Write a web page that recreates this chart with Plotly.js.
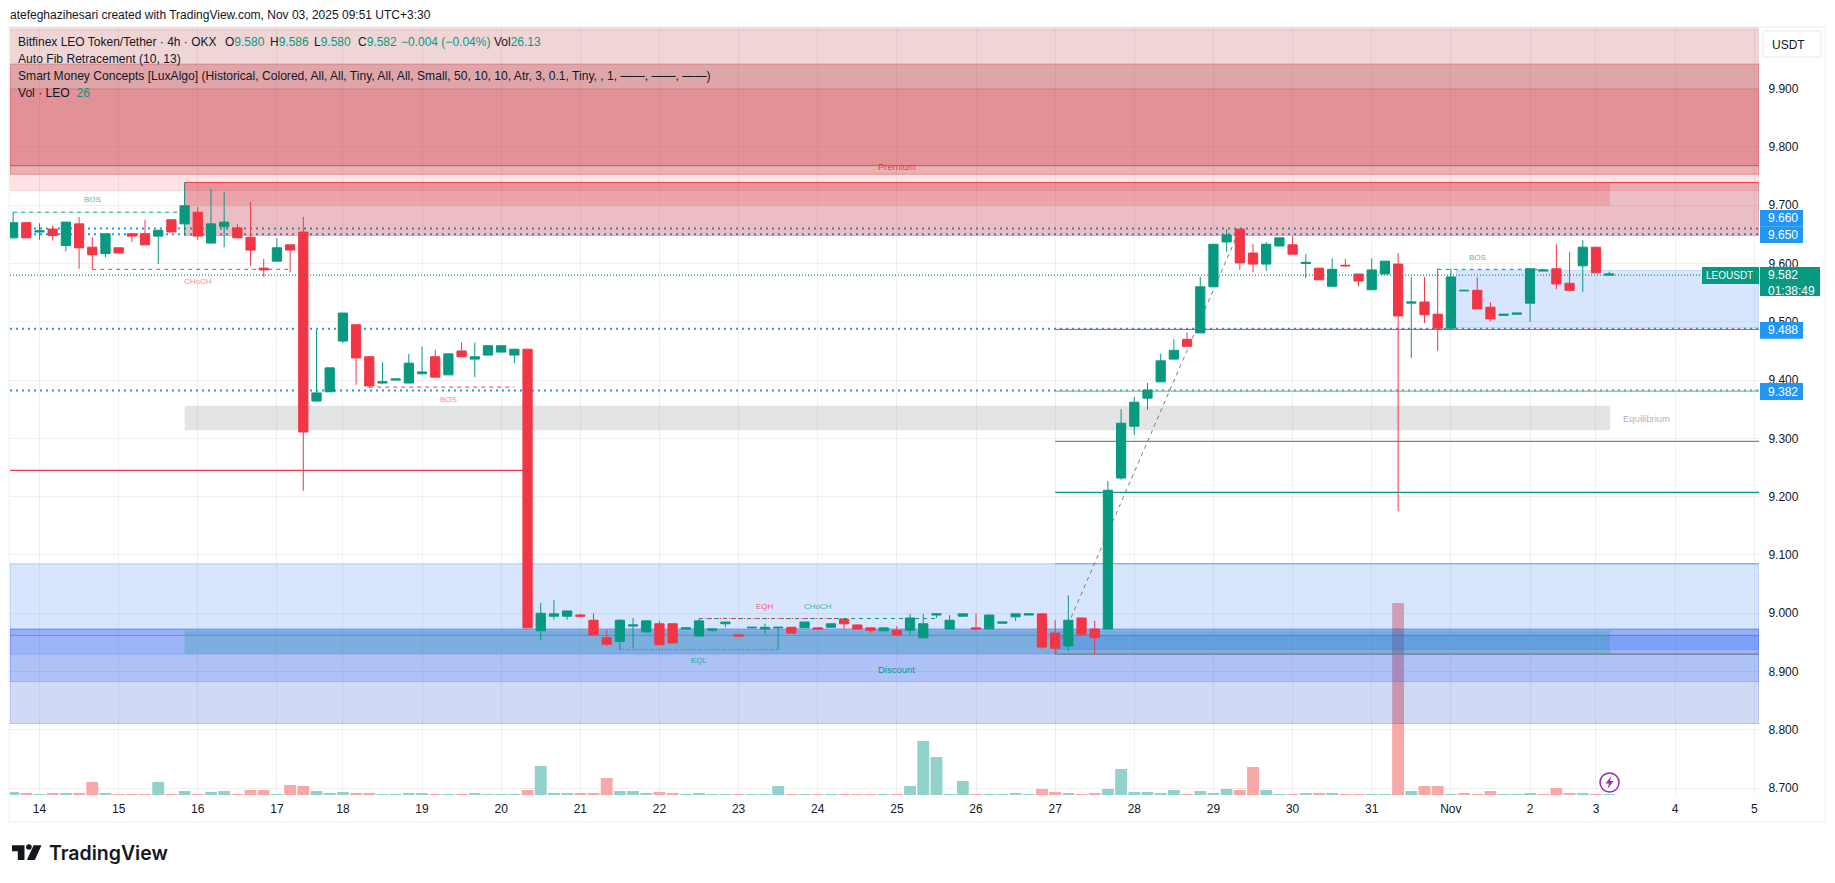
<!DOCTYPE html>
<html>
<head>
<meta charset="utf-8">
<script src="https://cdn.plot.ly/plotly-3.0.1.min.js"></script>
<style>
  html, body { margin: 0; padding: 0; background: #fff; overflow: hidden; }
</style>
</head>
<body>
<div id="graph" style="width:1835px;height:883px"></div>
<script>
//4h candles, first bar is index -2 (14 Oct is index 0)
var opens = [
  9.644,9.670,9.654,9.659,9.631,9.668,9.628,9.617,9.627,9.651,
  9.651,9.647,9.675,9.668,9.688,9.635,9.663,9.661,9.645,9.592,
  9.604,9.632,9.654,9.364,9.380,9.467,9.495,9.440,9.395,9.400,
  9.395,9.411,9.440,9.409,9.450,9.436,9.443,9.448,9.443,9.453,
  8.970,8.995,8.995,8.997,8.988,8.958,8.952,8.978,8.968,8.982,
  8.982,8.973,8.961,8.971,8.982,8.963,8.975,8.973,8.975,8.976,
  8.975,8.975,8.976,8.990,8.980,8.975,8.970,8.971,8.971,8.958,
  8.997,8.973,8.995,8.975,8.973,8.983,8.994,8.997,8.999,8.966,
  8.944,8.992,8.973,8.973,9.232,9.321,9.369,9.397,9.436,9.470,
  9.481,9.560,9.637,9.659,9.618,9.599,9.630,9.632,9.600,9.592,
  9.561,9.597,9.582,9.555,9.582,9.599,9.532,9.534,9.513,9.489,
  9.553,9.554,9.525,9.511,9.513,9.532,9.587,9.591,9.566,9.596,
  9.628,9.580
];
var closes = [
  9.670,9.644,9.656,9.648,9.671,9.627,9.615,9.651,9.618,9.647,
  9.632,9.657,9.654,9.699,9.647,9.668,9.671,9.644,9.623,9.589,
  9.627,9.623,9.311,9.378,9.421,9.515,9.438,9.390,9.397,9.402,
  9.429,9.414,9.405,9.445,9.440,9.440,9.459,9.459,9.453,8.975,
  9.000,8.999,9.004,8.995,8.963,8.947,8.988,8.980,8.987,8.946,
  8.949,8.975,8.987,8.973,8.985,8.961,8.976,8.976,8.976,8.966,
  8.985,8.973,8.982,8.982,8.973,8.971,8.975,8.963,8.992,8.982,
  8.999,8.988,8.999,8.973,8.997,8.985,8.999,8.999,8.942,8.940,
  8.988,8.964,8.958,9.211,9.326,9.362,9.383,9.433,9.451,9.458,
  9.560,9.633,9.649,9.601,9.599,9.633,9.644,9.616,9.602,9.572,
  9.590,9.596,9.570,9.589,9.604,9.510,9.534,9.512,9.489,9.577,
  9.554,9.522,9.505,9.513,9.515,9.591,9.589,9.565,9.554,9.628,
  9.584,9.582
];
var highs = [
  9.688,9.670,9.669,9.665,9.671,9.680,9.645,9.651,9.627,9.651,
  9.675,9.657,9.676,9.739,9.697,9.728,9.723,9.668,9.706,9.608,
  9.644,9.632,9.680,9.486,9.421,9.515,9.495,9.441,9.431,9.402,
  9.445,9.457,9.452,9.445,9.465,9.464,9.459,9.459,9.453,9.453,
  9.018,9.023,9.004,8.999,9.000,8.971,8.990,8.992,8.988,8.987,
  8.982,8.975,8.991,8.973,8.985,8.963,8.976,8.982,8.976,8.976,
  8.985,8.975,8.982,8.990,8.980,8.975,8.975,8.978,8.999,8.999,
  8.999,8.997,8.999,8.999,8.997,8.985,8.999,8.999,8.999,8.988,
  9.031,8.992,8.987,9.227,9.350,9.371,9.395,9.445,9.470,9.482,
  9.577,9.633,9.659,9.659,9.633,9.637,9.644,9.647,9.616,9.592,
  9.609,9.608,9.582,9.609,9.604,9.618,9.577,9.577,9.591,9.591,
  9.554,9.577,9.534,9.513,9.515,9.591,9.589,9.633,9.620,9.640,
  9.628,9.586
];
var lows = [
  9.644,9.644,9.641,9.639,9.621,9.591,9.590,9.611,9.618,9.637,
  9.632,9.599,9.654,9.648,9.640,9.635,9.628,9.644,9.596,9.577,
  9.604,9.585,9.210,9.364,9.380,9.464,9.392,9.386,9.393,9.400,
  9.395,9.409,9.405,9.409,9.440,9.405,9.443,9.448,9.429,8.975,
  8.954,8.989,8.989,8.995,8.963,8.944,8.937,8.940,8.968,8.946,
  8.949,8.973,8.961,8.968,8.976,8.961,8.975,8.964,8.937,8.966,
  8.975,8.973,8.975,8.973,8.973,8.966,8.970,8.963,8.963,8.958,
  8.992,8.973,8.995,8.973,8.973,8.983,8.987,8.997,8.939,8.930,
  8.935,8.964,8.930,8.973,9.229,9.306,9.349,9.397,9.436,9.458,
  9.481,9.560,9.620,9.589,9.585,9.587,9.630,9.616,9.575,9.572,
  9.561,9.596,9.561,9.555,9.582,9.175,9.438,9.498,9.450,9.489,
  9.553,9.522,9.501,9.511,9.513,9.500,9.587,9.556,9.554,9.551,
  9.584,9.580
];
var volumes = [
  78,52,26,52,52,52,338,52,26,26,
  26,338,26,104,26,78,104,26,130,130,
  26,260,234,104,52,78,52,52,26,26,
  52,52,26,26,26,52,26,26,26,130,
  754,52,52,52,52,442,104,104,52,78,
  52,26,52,26,26,26,26,26,234,26,
  26,26,26,26,26,26,26,26,234,1404,
  988,26,364,26,26,26,52,26,156,78,
  52,26,52,156,676,78,78,52,130,26,
  104,52,156,130,728,130,26,26,52,52,
  52,26,26,26,26,4992,104,234,234,26,
  52,26,104,26,26,52,26,182,52,52,
  26,26
];
//these two volume bars are red although the candle closes up
var volRedBars = [108, 114];

var dayLabels = ['14','15','16','17','18','19','20','21','22','23','24','25','26','27','28','29','30','31','Nov','2','3','4','5'];
var dayBars = [0,6,12,18,23,29,35,41,47,53,59,65,71,77,83,89,95,101,107,113,118,124,130];
var priceTicks = [8.7,8.8,8.9,9.0,9.1,9.2,9.3,9.4,9.5,9.6,9.7,9.8,9.9,10.0];

var barIndex = opens.map(function (v, i) { return i - 2; });

//plot box in page pixels
var plotL = 10, plotR = 1759, plotT = 27, plotB = 795;
var xRange = [-2.237, 130.36];
var priceRange = [8.6883, 10.0057];
var volRange = [0, 19968];
function px(x) { return (x - plotL) / (plotR - plotL); }
function py(y) { return (plotB - y) / (plotB - plotT); }

var xL = xRange[0], xR = xRange[1];

//zones: from bar, to bar, low, high, fill, border
var zones = [
  [xL, xR, 9.768, 10.0057, 'rgba(180,45,55,.2)', 'rgba(0,0,0,0)'],
  [xL, xR, 9.768, 9.942, 'rgba(180,45,55,.28)', 'rgba(220,90,100,.6)'],
  [xL, xR, 9.768, 9.899, 'rgba(242,54,69,.18)', 'rgba(220,90,100,.5)'],
  [xL, xR, 9.725, 9.768, 'rgba(242,54,69,.14)', 'rgba(242,54,69,.12)'],
  [xL, xR, 9.753, 9.768, 'rgba(180,45,55,.28)', 'rgba(220,90,100,.5)'],
  [11, xR, 9.648, 9.739, 'rgba(190,40,55,.3)', 'rgba(190,40,55,.25)'],
  [11, 119.07, 9.699, 9.739, 'rgba(242,54,69,.2)', 'rgba(0,0,0,0)'],
  [11, 119.07, 9.314, 9.356, 'rgba(135,139,148,.23)', 'rgba(0,0,0,0)'],
  [107.4, xR, 9.490, 9.588, 'rgba(41,120,245,.19)', 'rgba(41,120,245,.2)'],
  [xL, xR, 8.962, 9.085, 'rgba(41,120,245,.19)', 'rgba(41,120,245,.3)'],
  [xL, xR, 8.811, 8.973, 'rgba(24,72,204,.2)', 'rgba(24,72,204,.25)'],
  [xL, xR, 8.883, 8.973, 'rgba(41,98,255,.2)', 'rgba(41,98,255,.25)'],
  [xL, xR, 8.930, 8.962, 'rgba(41,98,255,.13)', 'rgba(41,98,255,.2)'],
  [77, xR, 8.938, 8.962, 'rgba(41,98,255,.25)', 'rgba(41,98,255,.2)'],
  [11, 119.07, 8.930, 8.970, 'rgba(8,153,129,.22)', 'rgba(0,0,0,0)']
];

//lines: from bar, to bar, price from, price to, colour, dash, width
var blueLevels = [9.660, 9.650, 9.488, 9.382];
var fibLines = [
  [77, xR, 9.085, 9.085, '#64a8f0', 'solid', 1.2],
  [77, xR, 9.487, 9.487, '#f23645', 'solid', 1],
  [77, xR, 9.381, 9.381, '#81c784', 'solid', 1.2],
  [77, xR, 9.295, 9.295, '#5aa05a', 'solid', 1.2],
  [77, xR, 9.2075, 9.2075, '#089981', 'solid', 1.2],
  [77, xR, 8.930, 8.930, '#787b86', 'solid', 1.2],
  [77, 91, 8.930, 9.659, '#787b86', 'dash', 1],
  [xL, 37, 9.245, 9.245, '#f23645', 'solid', 1.2]
];
var structLines = [
  [-2, 11, 9.688, 9.688, '#089981', 'dash', 1],
  [4, 19, 9.590, 9.590, '#f23645', 'dash', 1],
  [25, 36, 9.388, 9.388, '#f23645', 'dash', 1],
  [44, 56, 8.938, 8.938, '#089981', 'dot', 1],
  [50, 68, 8.991, 8.991, '#089981', 'dash', 1],
  [50, 61, 8.991, 8.991, '#f23645', 'dot', 1],
  [106, 114, 9.590, 9.590, '#089981', 'dash', 1],
  [xL, xR, 9.580, 9.580, '#089981', 'dot', 1.2]
];

//small chart labels: bar, price, text, colour, size
var chartLabels = [
  [4, 9.710, 'BOS', '#5cb8a8', 8],
  [12, 9.570, 'CHoCH', '#f78a94', 8],
  [31, 9.367, 'BOS', '#f78a94', 8],
  [55, 9.011, 'EQH', '#f0607a', 8],
  [59, 9.011, 'CHoCH', '#45b5a3', 8],
  [50, 8.919, 'EQL', '#2aa893', 8],
  [65, 8.903, 'Discount', '#089981', 9.5],
  [65, 9.766, 'Premium', '#f23645', 9.5],
  [121.8, 9.334, 'Equilibrium', '#b2b5be', 9.5],
  [109, 9.611, 'BOS', '#5cb8a8', 8]
];

var green = '#089981', red = '#f23645';
var font = 'Liberation Sans, Arial, sans-serif';

function lineTrace(l, axis) {
  return {
    type: 'scatter', mode: 'lines', x: [l[0], l[1]], y: [l[2], l[3]], yaxis: axis,
    line: { color: l[4], dash: l[5] == 'dot' ? '1px,2px' : (l[5] == 'dash' ? '4px,4px' : 'solid'), width: l[6] },
    hoverinfo: 'skip', showlegend: false
  };
}

var data = [];

//volume sits at the bottom, zones are painted over it
data.push({
  type: 'bar', x: barIndex, y: volumes, yaxis: 'y', width: 0.9,
  marker: {
    color: barIndex.map(function (b, i) {
      var down = closes[i] < opens[i] || volRedBars.indexOf(b) >= 0;
      return down ? '#f7a8a7' : '#92d2cc';
    }),
    line: { width: 0 }
  },
  hoverinfo: 'skip', showlegend: false
});

//blue dotted levels go under the zones
blueLevels.forEach(function (p) {
  data.push({
    type: 'scatter', mode: 'lines', x: [xL, xR], y: [p, p], yaxis: 'y2',
    line: { color: '#2196f3', dash: '2px,4px', width: 2 }, hoverinfo: 'skip', showlegend: false
  });
});

zones.forEach(function (z) {
  data.push({
    type: 'scatter', mode: 'lines', x: [z[0], z[1], z[1], z[0], z[0]], y: [z[2], z[2], z[3], z[3], z[2]],
    yaxis: 'y2', fill: 'toself', fillcolor: z[4], line: { color: z[5], width: 1 },
    hoverinfo: 'skip', showlegend: false
  });
});

fibLines.forEach(function (l) { data.push(lineTrace(l, 'y2')); });
data.push(lineTrace([11, xR, 9.739, 9.739, '#e8414f', 'solid', 1.2], 'y2'));

data.push({
  type: 'candlestick', x: barIndex, open: opens, high: highs, low: lows, close: closes, yaxis: 'y3',
  increasing: { line: { color: green, width: 1 }, fillcolor: green },
  decreasing: { line: { color: red, width: 1 }, fillcolor: red },
  hoverinfo: 'skip', showlegend: false
});

structLines.forEach(function (l) { data.push(lineTrace(l, 'y3')); });

var annotations = [];

//annotations carry 2px of padding, take it off so x is the real text start
function pageText(x, y, text, size, color) {
  annotations.push({
    xref: 'paper', yref: 'paper', x: px(x - 2), y: py(y), text: text, showarrow: false,
    xanchor: 'left', yanchor: 'middle', align: 'left',
    font: { family: font, size: size, color: color }
  });
}

chartLabels.forEach(function (c) {
  annotations.push({
    xref: 'x', yref: 'y2', x: c[0], y: c[1], text: c[2], showarrow: false,
    font: { family: font, size: c[4], color: c[3] }
  });
});

//header
function g(t) { return '<span style="color:#089981">' + t + '</span>'; }
pageText(10, 15, 'atefeghazihesari created with TradingView.com, Nov 03, 2025 09:51 UTC+3:30', 12, '#131722');
pageText(18, 41.7, 'Bitfinex LEO Token/Tether · 4h · OKX', 12, '#131722');
pageText(225, 41.7, 'O' + g('9.580'), 12, '#131722');
pageText(269.7, 41.7, 'H' + g('9.586'), 12, '#131722');
pageText(314, 41.7, 'L' + g('9.580'), 12, '#131722');
pageText(357.5, 41.7, 'C' + g('9.582'), 12, '#131722');
pageText(401.4, 41.7, g('−0.004 (−0.04%)'), 12, '#131722');
pageText(493.5, 41.7, 'Vol' + g('26.13'), 12, '#131722');
pageText(18, 59, 'Auto Fib Retracement (10, 13)', 12.1, '#131722');
pageText(18, 76, 'Smart Money Concepts [LuxAlgo] (Historical, Colored, All, All, Tiny, All, All, Small, 50, 10, 10, Atr, 3, 0.1, Tiny, , 1, ——, ——, ——)', 12.1, '#131722');
pageText(18, 93, 'Vol · LEO\u00a0\u00a0' + g('26'), 12.1, '#131722');

//price tags on the right
var blueTags = [['9.660', 218.3], ['9.650', 235], ['9.488', 330.3], ['9.382', 391.5]];
blueTags.forEach(function (t) {
  pageText(1768, t[1], t[0], 12, '#ffffff');
});
pageText(1706, 275.5, 'LEOUSDT', 10, '#ffffff');
pageText(1768, 282.5, '9.582<br>01:38:49', 12, '#ffffff');
pageText(1772, 44.5, 'USDT', 12, '#131722');

annotations.push({
  xref: 'paper', yref: 'paper', x: px(47), y: py(853), text: 'TradingView', showarrow: false,
  xanchor: 'left', yanchor: 'middle', font: { family: 'Inter, Liberation Sans', size: 19.5, color: '#131722', weight: 600 }
});

function box(x0, y0, x1, y1, fill) {
  return { type: 'rect', xref: 'paper', yref: 'paper', x0: px(x0), x1: px(x1), y0: py(y0), y1: py(y1), fillcolor: fill, line: { width: 0 }, layer: 'above' };
}
function path(points, fill) {
  var d = points.map(function (p, i) { return (i ? 'L' : 'M') + px(p[0]) + ',' + py(p[1]); }).join(' ') + ' Z';
  return { type: 'path', xref: 'paper', yref: 'paper', path: d, fillcolor: fill, line: { width: 0 }, layer: 'above' };
}

var shapes = [
  //chart border
  box(8.5, 26, 10, 822, '#f2f3f5'),
  box(8.5, 26, 1826, 27.5, '#f2f3f5'),
  box(8.5, 821, 1826, 822.5, '#f2f3f5'),
  box(1824.5, 26, 1826, 822.5, '#f2f3f5'),
  //tags
  box(1760, 210, 1803, 226.7, '#2196f3'),
  box(1760, 226.7, 1803, 243, '#2196f3'),
  box(1760, 322, 1803, 338.7, '#2196f3'),
  box(1760, 383, 1803, 400, '#2196f3'),
  box(1702, 267, 1759, 284, green),
  box(1760, 267, 1820, 296, green),
  //USDT button
  { type: 'rect', xref: 'paper', yref: 'paper', x0: px(1763), x1: px(1821), y0: py(31), y1: py(57), fillcolor: '#ffffff', line: { color: '#f0f1f3', width: 1.5 }, layer: 'above' },
  //lightning badge
  { type: 'circle', xref: 'paper', yref: 'paper', x0: px(1600), x1: px(1619), y0: py(773), y1: py(792), fillcolor: '#ffffff', line: { color: '#9c27b0', width: 1.5 }, layer: 'above' },
  path([[1611.5, 776], [1605.5, 783.5], [1609, 783.5], [1607.5, 789], [1613.5, 781], [1610, 781]], '#9c27b0'),
  //logo
  path([[12, 845.3], [24.5, 845.3], [24.5, 860], [17.8, 860], [17.8, 851.3], [12, 851.3]], '#131722'),
  { type: 'circle', xref: 'paper', yref: 'paper', x0: px(26.1), x1: px(31.7), y0: py(844.2), y1: py(849.8), fillcolor: '#131722', line: { width: 0 }, layer: 'above' },
  path([[33.6, 845.3], [41.5, 845.3], [34.8, 860], [26.9, 860]], '#131722')
];

var layout = {
  width: 1835,
  height: 883,
  margin: { l: plotL, r: 1835 - plotR, t: plotT, b: 883 - plotB, pad: 0 },
  paper_bgcolor: '#ffffff',
  plot_bgcolor: '#ffffff',
  showlegend: false,
  barmode: 'overlay',
  boxgroupgap: 0,
  xaxis: {
    range: xRange, tickmode: 'array', tickvals: dayBars, ticktext: dayLabels,
    showgrid: true, gridcolor: 'rgba(42,46,57,.07)', gridwidth: 1, zeroline: false, showline: false,
    ticks: 'outside', ticklen: 3, tickcolor: 'rgba(0,0,0,0)',
    tickfont: { family: font, size: 12, color: '#131722' },
    rangeslider: { visible: false }, fixedrange: true
  },
  yaxis: { range: volRange, visible: false, fixedrange: true },
  yaxis2: {
    range: priceRange, overlaying: 'y', side: 'right', tickmode: 'array', tickvals: priceTicks,
    ticktext: priceTicks.map(function (p) { return p == 10 ? '' : p.toFixed(3); }),
    showgrid: true, gridcolor: 'rgba(42,46,57,.07)', gridwidth: 1, zeroline: false, showline: false,
    ticks: 'outside', ticklen: 6, tickcolor: 'rgba(0,0,0,0)',
    tickfont: { family: font, size: 12, color: '#131722' }, fixedrange: true
  },
  yaxis3: { range: priceRange, overlaying: 'y', visible: false, fixedrange: true },
  annotations: annotations,
  shapes: shapes
};

var config = { responsive: false, displayModeBar: false, staticPlot: true };
Plotly.newPlot('graph', data, layout, config);
</script>
</body>
</html>
